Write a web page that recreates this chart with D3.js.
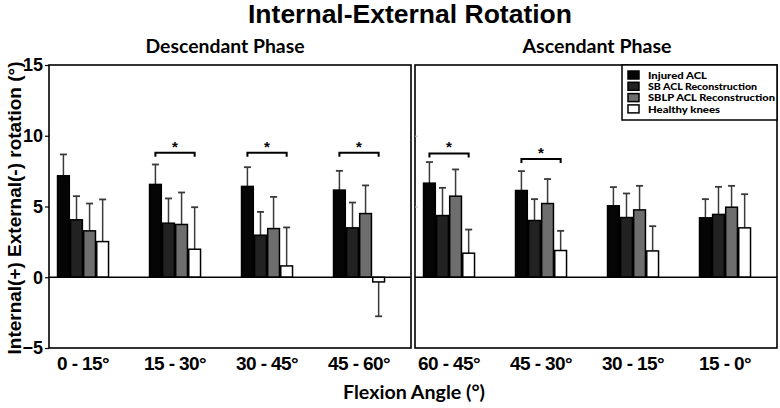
<!DOCTYPE html>
<html><head><meta charset="utf-8">
<script src="https://cdn.jsdelivr.net/npm/d3@7"></script>
<style>body{margin:0;background:#fff}svg{display:block}</style>
</head><body>
<script>
// ---- Data ----
const categoriesDesc = ["0 - 15°", "15 - 30°", "30 - 45°", "45 - 60°"];
const categoriesAsc  = ["60 - 45°", "45 - 30°", "30 - 15°", "15 - 0°"];
const seriesNames = ["Injured ACL", "SB ACL Reconstruction", "SBLP ACL Reconstruction", "Healthy knees"];
const injured    = [7.17, 6.56, 6.42, 6.16, 6.65, 6.13, 5.05, 4.20];
const injuredSD  = [1.51, 1.41, 1.36, 1.36, 1.49, 1.37, 1.32, 1.32];
const sb         = [4.06, 3.82, 2.97, 3.49, 4.36, 4.01, 4.22, 4.44];
const sbSD       = [1.67, 1.75, 1.65, 1.79, 1.96, 1.51, 1.70, 1.95];
const sblp       = [3.28, 3.73, 3.44, 4.50, 5.73, 5.21, 4.76, 4.95];
const sblpSD     = [1.93, 2.26, 2.24, 1.99, 1.89, 1.73, 1.70, 1.51];
const healthy    = [2.52, 1.98, 0.80, -0.33, 1.70, 1.89, 1.86, 3.49];
const healthySD  = [2.98, 2.97, 2.72, 2.43, 1.67, 1.39, 1.75, 2.38];
const sigIndex   = [1, 2, 3, 4, 5];
const sigLevel   = [8.8, 8.8, 8.8, 8.75, 8.35];
const yTicks     = [-5, 0, 5, 10, 15];
const colors     = ["#050505", "#222222", "#6e6e6e", "#ffffff"];

const W = 780, H = 408;
const svg = d3.select("body").append("svg").attr("width", W).attr("height", H);

const plotTop = 65, plotBottom = 348;
const y = d3.scaleLinear().domain([-5, 15]).range([plotBottom, plotTop]);
const panels = [
  {cats: categoriesDesc, x0: 49, x1: 411, title: "Descendant Phase", offset: 0},
  {cats: categoriesAsc,  x0: 415, x1: 777, title: "Ascendant Phase", offset: 4}
];
const seriesVals = [injured, sb, sblp, healthy];
const seriesSD = [injuredSD, sbSD, sblpSD, healthySD];
const inner = d3.scaleBand().domain(seriesNames).range([-25.5, 25.5]).paddingInner(0.1);

// Title
svg.append("text").attr("x", 410).attr("y", 23).attr("text-anchor", "middle")
  .attr("font-family", "Liberation Sans, Arial, sans-serif").attr("font-weight", "bold")
  .attr("font-size", 25).attr("textLength", 324).attr("lengthAdjust", "spacingAndGlyphs")
  .text("Internal-External Rotation");

panels.forEach((p, pi) => {
  const x = d3.scaleLinear().domain([0.63, 4.565]).range([p.x0, p.x1]);
  const g = svg.append("g");
  // phase title
  g.append("text").attr("x", (p.x0 + p.x1) / 2 - (pi === 0 ? 5 : -1)).attr("y", 53).attr("text-anchor", "middle")
    .attr("font-family", "Lato, sans-serif").attr("font-weight", "bold").attr("font-size", 18)
    .attr("textLength", pi === 0 ? 159 : 149).attr("lengthAdjust", "spacingAndGlyphs")
    .text(p.title);

  // bars
  p.cats.forEach((c, ci) => {
    const idx = ci + p.offset;
    const cx = x(ci + 1);
    seriesNames.forEach((s, si) => {
      const v = seriesVals[si][idx], sd = seriesSD[si][idx];
      const bx = cx + inner(s);
      const bw = inner.bandwidth();
      const end = v + Math.sign(v) * sd;
      // error bar
      g.append("line").attr("x1", bx + bw / 2).attr("x2", bx + bw / 2)
        .attr("y1", y(v)).attr("y2", y(end)).attr("stroke", "#3a3a3a").attr("stroke-width", 1.5);
      g.append("line").attr("x1", bx + bw / 2 - 3.5).attr("x2", bx + bw / 2 + 3.5)
        .attr("y1", y(end)).attr("y2", y(end)).attr("stroke", "#3a3a3a").attr("stroke-width", 1.8);
      g.append("rect").attr("x", bx).attr("width", bw)
        .attr("y", Math.min(y(v), y(0))).attr("height", Math.abs(y(v) - y(0)))
        .attr("fill", colors[si]).attr("stroke", "#000").attr("stroke-width", 1.5);
    });
    // x tick label
    g.append("text").attr("x", cx).attr("y", 370).attr("text-anchor", "middle")
      .attr("font-family", "Liberation Sans, Arial, sans-serif").attr("font-weight", "bold")
      .attr("font-size", 19).attr("letter-spacing", -0.6).text(c);
    // significance
    const k = sigIndex.indexOf(idx);
    if (k >= 0) {
      const xa = cx + inner(seriesNames[0]) + inner.bandwidth() / 2;
      const xb = cx + inner(seriesNames[3]) + inner.bandwidth() / 2;
      const yy = y(sigLevel[k]);
      g.append("path").attr("d", `M${xa},${yy + 4}V${yy}H${xb}V${yy + 4}`)
        .attr("fill", "none").attr("stroke", "#000").attr("stroke-width", 2);
      g.append("text").attr("x", (xa + xb) / 2).attr("y", yy - 1).attr("text-anchor", "middle")
        .attr("font-family", "Liberation Sans, Arial, sans-serif").attr("font-weight", "bold")
        .attr("font-size", 15).text("*");
    }
  });

  // zero line
  g.append("line").attr("x1", p.x0).attr("x2", p.x1).attr("y1", y(0)).attr("y2", y(0))
    .attr("stroke", "#000").attr("stroke-width", 1.5);
  // frame
  g.append("rect").attr("x", p.x0).attr("y", plotTop).attr("width", p.x1 - p.x0).attr("height", plotBottom - plotTop)
    .attr("fill", "none").attr("stroke", "#000").attr("stroke-width", 1.6);

  if (pi === 0) {
    const ax = d3.axisLeft(y).tickValues(yTicks).tickSize(4).tickFormat(d3.format("d"));
    const axg = svg.append("g").attr("transform", `translate(${p.x0},0)`).call(ax);
    axg.select(".domain").remove();
    axg.selectAll("line").attr("stroke", "#000").attr("stroke-width", 1.2);
    axg.selectAll("text").attr("font-family", "Liberation Sans, Arial, sans-serif")
      .attr("font-weight", "bold").attr("font-size", 18).attr("fill", "#000").attr("x", -6);
  } else {
    const ax = d3.axisRight(y).tickValues([5, 10]).tickSize(3).tickFormat("");
    const axg = svg.append("g").attr("transform", `translate(${p.x0},0)`).call(ax);
    axg.select(".domain").remove();
    axg.selectAll("line").attr("stroke", "#bbb").attr("stroke-width", 1);
  }
});

// legend
const lg = svg.append("g");
lg.append("rect").attr("x", 622).attr("y", 65).attr("width", 155).attr("height", 55)
  .attr("fill", "#fff").attr("stroke", "#000").attr("stroke-width", 1.5);
seriesNames.forEach((s, i) => {
  const ry = 71 + i * 11.3;
  lg.append("rect").attr("x", 628).attr("y", ry).attr("width", 11).attr("height", 8)
    .attr("fill", colors[i]).attr("stroke", "#000").attr("stroke-width", 1.5);
  lg.append("text").attr("x", 648).attr("y", ry + 7.8).attr("font-family", "Lato, sans-serif")
    .attr("font-weight", "900").attr("font-size", 9.5)
    .attr("textLength", [59, 109, 127, 72][i]).attr("lengthAdjust", "spacingAndGlyphs").text(s);
});

// axis titles
svg.append("text").attr("x", 414).attr("y", 399).attr("text-anchor", "middle")
  .attr("font-family", "Lato, sans-serif").attr("font-weight", "bold").attr("font-size", 18)
  .attr("textLength", 142).attr("lengthAdjust", "spacingAndGlyphs").text("Flexion Angle (°)");
svg.append("text").attr("transform", "translate(21,208) rotate(-90)").attr("text-anchor", "middle")
  .attr("font-family", "Liberation Sans, Arial, sans-serif").attr("font-weight", "bold").attr("font-size", 17.5)
  .attr("textLength", 293).attr("lengthAdjust", "spacingAndGlyphs").text("Internal(+) External(-) rotation (°)");
</script>
</body></html>
